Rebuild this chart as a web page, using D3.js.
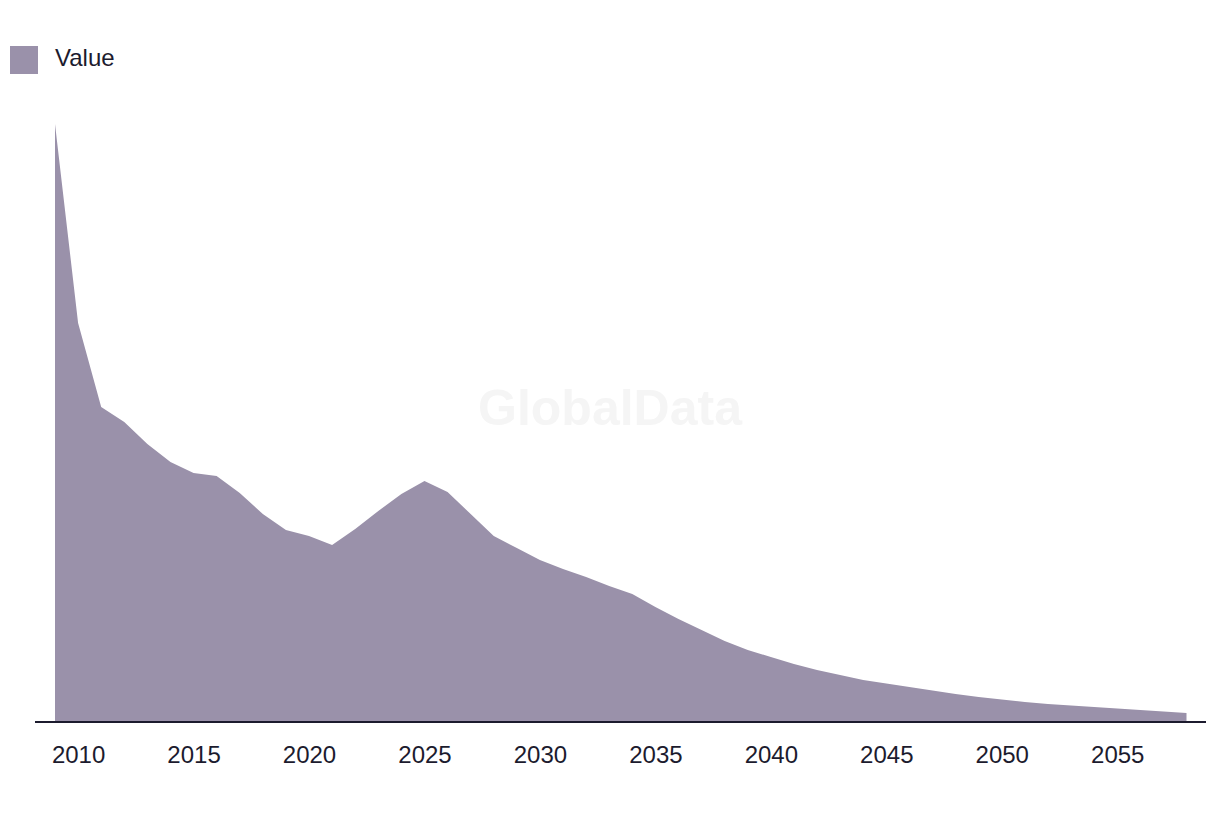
<!DOCTYPE html>
<html>
<head>
<meta charset="utf-8">
<script src="https://cdn.jsdelivr.net/npm/d3@7"></script>
<style>
  html, body { margin: 0; padding: 0; background: #ffffff; }
  svg { display: block; }
</style>
</head>
<body>
<svg id="chart" width="1220" height="814"></svg>
<script>
const years = [2009,2010,2011,2012,2013,2014,2015,2016,2017,2018,2019,2020,2021,2022,2023,2024,2025,2026,2027,2028,2029,2030,2031,2032,2033,2034,2035,2036,2037,2038,2039,2040,2041,2042,2043,2044,2045,2046,2047,2048,2049,2050,2051,2052,2053,2054,2055,2056,2057,2058];
const values = [59.8,39.9,31.5,30.0,27.8,26.0,24.9,24.6,22.9,20.8,19.2,18.6,17.7,19.3,21.1,22.8,24.1,23.0,20.8,18.6,17.4,16.2,15.3,14.5,13.6,12.8,11.5,10.3,9.2,8.1,7.2,6.5,5.8,5.2,4.7,4.2,3.85,3.5,3.15,2.8,2.5,2.25,2.0,1.8,1.65,1.5,1.35,1.2,1.05,0.9];
const tickYears = [2010,2015,2020,2025,2030,2035,2040,2045,2050,2055];
const seriesName = "Value";
const fillColor = "#9a91aa";
const inkColor = "#1c1b2e";

const data = years.map((y, i) => ({ year: y, value: values[i] }));
const svg = d3.select("#chart");

const x = d3.scaleLinear().domain([2009, 2058]).range([55, 1186.5]);
const y = d3.scaleLinear().domain([0, 60]).range([722, 122]);

// watermark
svg.append("text")
  .attr("x", 610).attr("y", 425)
  .attr("text-anchor", "middle")
  .attr("font-family", "Liberation Sans, Arial, sans-serif")
  .attr("font-weight", "bold")
  .attr("font-size", 50)
  .attr("fill", "#f5f5f5")
  .text("GlobalData");

// area
const area = d3.area()
  .x(d => x(d.year))
  .y0(y(0))
  .y1(d => y(d.value));
svg.append("path")
  .datum(data)
  .attr("d", area)
  .attr("fill", fillColor);

// x axis
const axis = d3.axisBottom(x)
  .tickValues(tickYears)
  .tickFormat(d3.format("d"))
  .tickSize(0)
  .tickPadding(24);
const gx = svg.append("g")
  .attr("transform", `translate(0,${y(0)})`)
  .call(axis);
gx.select(".domain").remove();
gx.append("line")
  .attr("x1", 35).attr("x2", 1206)
  .attr("y1", 0).attr("y2", 0)
  .attr("stroke", inkColor)
  .attr("stroke-width", 2);
gx.selectAll(".tick text")
  .attr("font-family", "Liberation Sans, Arial, sans-serif")
  .attr("font-size", 24)
  .attr("fill", inkColor);

// legend
const lg = svg.append("g");
lg.append("rect")
  .attr("x", 10).attr("y", 46)
  .attr("width", 28).attr("height", 28)
  .attr("fill", fillColor);
lg.append("text")
  .attr("x", 55).attr("y", 66)
  .attr("font-family", "Liberation Sans, Arial, sans-serif")
  .attr("font-size", 24)
  .attr("fill", inkColor)
  .text(seriesName);
</script>
</body>
</html>
